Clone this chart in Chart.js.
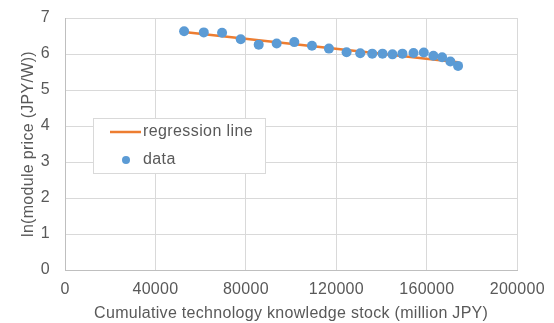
<!DOCTYPE html>
<html>
<head>
<meta charset="utf-8">
<script src="https://cdn.jsdelivr.net/npm/chart.js@4/dist/chart.umd.min.js"></script>
<style>
  html, body { margin: 0; padding: 0; background: #fff; }
  #wrap { width: 554px; height: 323px; }
</style>
</head>
<body>
<div id="wrap"><canvas id="scatterChart" width="554" height="323"></canvas></div>
<script>
// values
const stockX = [52670, 61370, 69450, 77700, 85650, 93600, 101400, 109200, 116700, 124500,
    130550, 135850, 140400, 144800, 149200, 154100, 158650, 162900, 166750, 170400, 173800];
const lnPrice = [6.63, 6.60, 6.59, 6.41, 6.26, 6.29, 6.33, 6.23, 6.15, 6.05,
    6.02, 6.01, 6.01, 5.99, 6.01, 6.03, 6.04, 5.95, 5.91, 5.79, 5.67];
const regressionX = [52670, 173800];
const regressionY = [6.61, 5.77];
const xTicks = [0, 40000, 80000, 120000, 160000, 200000];
const yTicks = [0, 1, 2, 3, 4, 5, 6, 7];

const textColor = '#595959';
const gridColor = '#d9d9d9';
const axisColor = '#bfbfbf';
const fontFamily = 'Arial, "Liberation Sans", sans-serif';
const fontSize = 16;

const toPoints = (xs, ys) => xs.map((x, i) => ({ x: x, y: ys[i] }));

// Excel spaces its text a little wider than canvas does
const wideText = {
    id: 'wideText',
    beforeDraw(chart) {
        chart.ctx.letterSpacing = '0.3px';
    }
};

// draws the Excel-like legend box inside the plot
const legendBox = {
    id: 'legendBox',
    afterDraw(chart) {
        const ctx = chart.ctx;
        ctx.save();
        ctx.fillStyle = '#ffffff';
        ctx.fillRect(93.5, 118.5, 172, 55);
        ctx.strokeStyle = gridColor;
        ctx.lineWidth = 1;
        ctx.strokeRect(93.5, 118.5, 172, 55);

        ctx.strokeStyle = '#ed7d31';
        ctx.lineWidth = 2.5;
        ctx.beginPath();
        ctx.moveTo(110, 132);
        ctx.lineTo(141, 132);
        ctx.stroke();

        ctx.fillStyle = '#5b9bd5';
        ctx.beginPath();
        ctx.arc(126, 160, 4, 0, Math.PI * 2);
        ctx.fill();

        ctx.fillStyle = textColor;
        ctx.font = fontSize + 'px ' + fontFamily;
        ctx.letterSpacing = '0.4px';
        ctx.textBaseline = 'middle';
        ctx.fillText('regression line', 143, 132);
        ctx.fillText('data', 143, 160);
        ctx.restore();
    }
};

const drawScatterChart = () => {
    const ctx = document.getElementById('scatterChart').getContext('2d');
    return new Chart(ctx, {
        type: 'scatter',
        data: {
            datasets: [{
                label: 'regression line',
                data: toPoints(regressionX, regressionY),
                showLine: true,
                borderColor: '#ed7d31',
                borderWidth: 2.5,
                pointRadius: 0,
                order: 2
            }, {
                label: 'data',
                data: toPoints(stockX, lnPrice),
                backgroundColor: '#5b9bd5',
                borderColor: '#5b9bd5',
                pointRadius: 5,
                pointBorderWidth: 0,
                order: 1
            }]
        },
        options: {
            responsive: false,
            animation: false,
            layout: { padding: { top: 18, right: 36, left: 0, bottom: 0 } },
            plugins: {
                legend: { display: false },
                tooltip: { enabled: false }
            },
            scales: {
                x: {
                    type: 'linear',
                    min: 0,
                    max: 200000,
                    afterBuildTicks: (scale) => { scale.ticks = xTicks.map(v => ({ value: v })); },
                    afterFit: (scale) => { scale.height = 53; },
                    grid: { color: gridColor, drawTicks: false },
                    border: { color: axisColor },
                    ticks: {
                        color: textColor,
                        padding: 10,
                        maxRotation: 0,
                        font: { size: fontSize, family: fontFamily },
                        callback: (v) => String(v)
                    },
                    title: {
                        display: true,
                        text: 'Cumulative technology knowledge stock (million JPY)',
                        color: textColor,
                        font: { size: fontSize, family: fontFamily },
                        padding: { top: 0, bottom: 0 }
                    }
                },
                y: {
                    min: 0,
                    max: 7,
                    afterBuildTicks: (scale) => { scale.ticks = yTicks.map(v => ({ value: v })); },
                    afterFit: (scale) => {
                        scale.width = 65;
                        // tick padding would otherwise push the plot top down
                        scale.paddingTop = 0;
                        scale.paddingBottom = 0;
                    },
                    grid: { color: gridColor, drawTicks: false },
                    border: { color: axisColor },
                    ticks: {
                        color: textColor,
                        padding: 15,
                        font: { size: fontSize, family: fontFamily }
                    },
                    title: {
                        display: true,
                        text: 'ln(module price (JPY/W))',
                        color: textColor,
                        font: { size: fontSize, family: fontFamily },
                        padding: { top: 19, bottom: 0 }
                    }
                }
            }
        },
        plugins: [wideText, legendBox]
    });
};

drawScatterChart();
</script>
</body>
</html>
